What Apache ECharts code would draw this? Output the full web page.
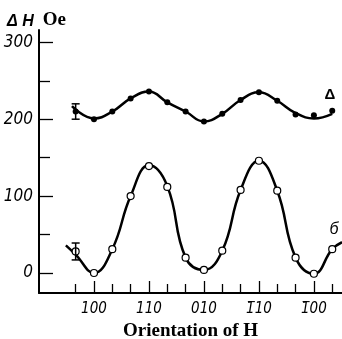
<!DOCTYPE html>
<html><head><meta charset="utf-8">
<script src="https://cdn.jsdelivr.net/npm/echarts@6/dist/echarts.min.js"></script>
<style>html,body{margin:0;padding:0;background:#fff}#c{width:342px;height:339px}</style>
</head><body><div id="c"></div>
<script>
// Orientation of H in degrees (0 = 100, 45 = 110, 90 = 010, 135 = -110, 180 = -100)
const orientDeg   = [-15, 0, 15, 30, 45, 60, 75, 90, 105, 120, 135, 150, 165, 180, 195];
const deltaValues = [210, 200, 210, 227, 236, 222, 210, 197, 207, 225, 235, 224, 206, 205, 211];
const bValues     = [28, 0, 31, 100, 139, 112, 20, 4, 29, 108, 146, 107, 20, -1, 31];
// fitted curves
const deltaCurveDeg = [-18, 0, 15, 30, 45, 60, 75, 90, 105, 120, 135, 150, 165, 180, 195];
const deltaCurveVal = [217, 201, 210, 227, 236, 222, 210, 197, 207, 225, 235, 224, 208, 201, 207];
const bCurveDeg = [-23, -15, 0, 15, 30, 45, 60, 75, 90, 105, 120, 135, 150, 165, 180, 195, 203];
const bCurveVal = [36, 24, 0, 31, 100, 140, 113, 20, 4, 29, 108, 146, 107, 20, -1, 31, 40];
// error bars
const errDeg  = [-15, -15];
const errLow  = [200, 17];
const errHigh = [220, 39];
// tick labels
const xLabelDeg = [0, 45, 90, 135, 180];
const xTickLabels = ['100', '110', '010', '1\u030510', '1\u030500'];
const xMinorDeg = [-15, 15, 30, 60, 75, 105, 120, 150, 165, 195];
const yLabelVals = [0, 100, 200, 300];
const yMinorVals = [50, 150, 250];

const zip = (a, b) => a.map((v, i) => [v, b[i]]);
const labelFont = "'Liberation Sans Narrow','DejaVu Sans Condensed','Liberation Sans',sans-serif";
const chart = echarts.init(document.getElementById('c'), null, {renderer: 'canvas'});
const xCommon = {type: 'value', min: -45, max: 203, position: 'bottom', splitLine: {show: false}};
const yCommon = {type: 'value', min: -26, max: 316, position: 'left', splitLine: {show: false}};
chart.setOption({
  animation: false,
  backgroundColor: '#fff',
  grid: {left: 39, right: 0, top: 30, bottom: 46, containLabel: false, outerBoundsMode: 'none'},
  xAxis: [
    Object.assign({}, xCommon, {
      axisLine: {show: true, onZero: false, lineStyle: {color: '#000', width: 2}},
      axisTick: {show: true, inside: true, length: 9, lineStyle: {color: '#000', width: 1.3}, customValues: xMinorDeg},
      axisLabel: {show: true, customValues: xLabelDeg, margin: 9, color: '#000', fontStyle: 'italic',
        fontFamily: labelFont, fontSize: 15,
        formatter: v => xTickLabels[xLabelDeg.indexOf(v)] || ''},
      name: '{a|Orientation of }{b|H}', nameLocation: 'middle', nameGap: 27,
      nameTextStyle: {rich: {
        a: {fontFamily: "'Liberation Serif','DejaVu Serif',serif", fontWeight: 'bold', fontSize: 19, color: '#000'},
        b: {fontFamily: "'Liberation Serif','DejaVu Serif',serif", fontWeight: 'bold', fontSize: 19, color: '#000'}
      }}
    }),
    Object.assign({}, xCommon, {
      axisLine: {show: false, onZero: false},
      axisTick: {show: true, inside: true, length: 12, lineStyle: {color: '#000', width: 1.3}, customValues: xLabelDeg},
      axisLabel: {show: false}
    })
  ],
  yAxis: [
    Object.assign({}, yCommon, {
      axisLine: {show: true, onZero: false, lineStyle: {color: '#000', width: 2}},
      axisTick: {show: true, inside: true, length: 11, lineStyle: {color: '#000', width: 1.3}, customValues: yMinorVals},
      axisLabel: {show: true, customValues: yLabelVals, margin: 6, color: '#000', fontStyle: 'italic',
        fontFamily: labelFont, fontSize: 17}
    }),
    Object.assign({}, yCommon, {
      axisLine: {show: false, onZero: false},
      axisTick: {show: true, inside: true, length: 14, lineStyle: {color: '#000', width: 1.3}, customValues: yLabelVals},
      axisLabel: {show: false}
    })
  ],
  graphic: [
    {type: 'text', left: 7, top: 11, style: {
      text: '{a|Δ H}{s| }{b|Oe}',
      rich: {
        a: {font: "italic bold 16px 'Liberation Sans', sans-serif", fill: '#000', verticalAlign: 'bottom'},
        s: {width: 9},
        b: {font: "bold 19px 'Liberation Serif', serif", fill: '#000', verticalAlign: 'bottom'}
      }}},
    {type: 'text', x: 330, y: 95, style: {text: 'Δ', font: "bold 15px 'Liberation Sans', sans-serif", fill: '#000', textAlign: 'center', textVerticalAlign: 'middle'}},
    {type: 'text', x: 334, y: 230, style: {text: 'б', font: "italic 16px 'Liberation Sans', sans-serif", fill: '#000', textAlign: 'center', textVerticalAlign: 'middle'}}
  ],
  series: [
    {type: 'line', data: zip(deltaCurveDeg, deltaCurveVal), smooth: 0.45, showSymbol: false, symbol: 'none',
      lineStyle: {color: '#000', width: 2.5}, z: 2},
    {type: 'line', data: zip(bCurveDeg, bCurveVal), smooth: 0.45, showSymbol: false, symbol: 'none',
      lineStyle: {color: '#000', width: 2.5}, z: 2},
    {type: 'scatter', data: zip(orientDeg, deltaValues), symbol: 'circle', symbolSize: 6,
      itemStyle: {color: '#000', opacity: 1}, z: 3},
    {type: 'scatter', data: zip(orientDeg, bValues), symbol: 'circle', symbolSize: 7,
      itemStyle: {color: '#fff', borderColor: '#000', borderWidth: 1.2, opacity: 1}, z: 3},
    {type: 'custom', data: errDeg.map((d, i) => [d, errLow[i], errHigh[i]]), z: 4,
      renderItem: (params, api) => {
        const lo = api.coord([api.value(0), api.value(1)]);
        const hi = api.coord([api.value(0), api.value(2)]);
        const w = 4, st = {stroke: '#000', lineWidth: 1.5};
        return {type: 'group', children: [
          {type: 'line', shape: {x1: lo[0], y1: lo[1], x2: hi[0], y2: hi[1]}, style: st},
          {type: 'line', shape: {x1: lo[0] - w, y1: lo[1], x2: lo[0] + w, y2: lo[1]}, style: st},
          {type: 'line', shape: {x1: hi[0] - w, y1: hi[1], x2: hi[0] + w, y2: hi[1]}, style: st}
        ]};
      }}
  ]
});
</script></body></html>
